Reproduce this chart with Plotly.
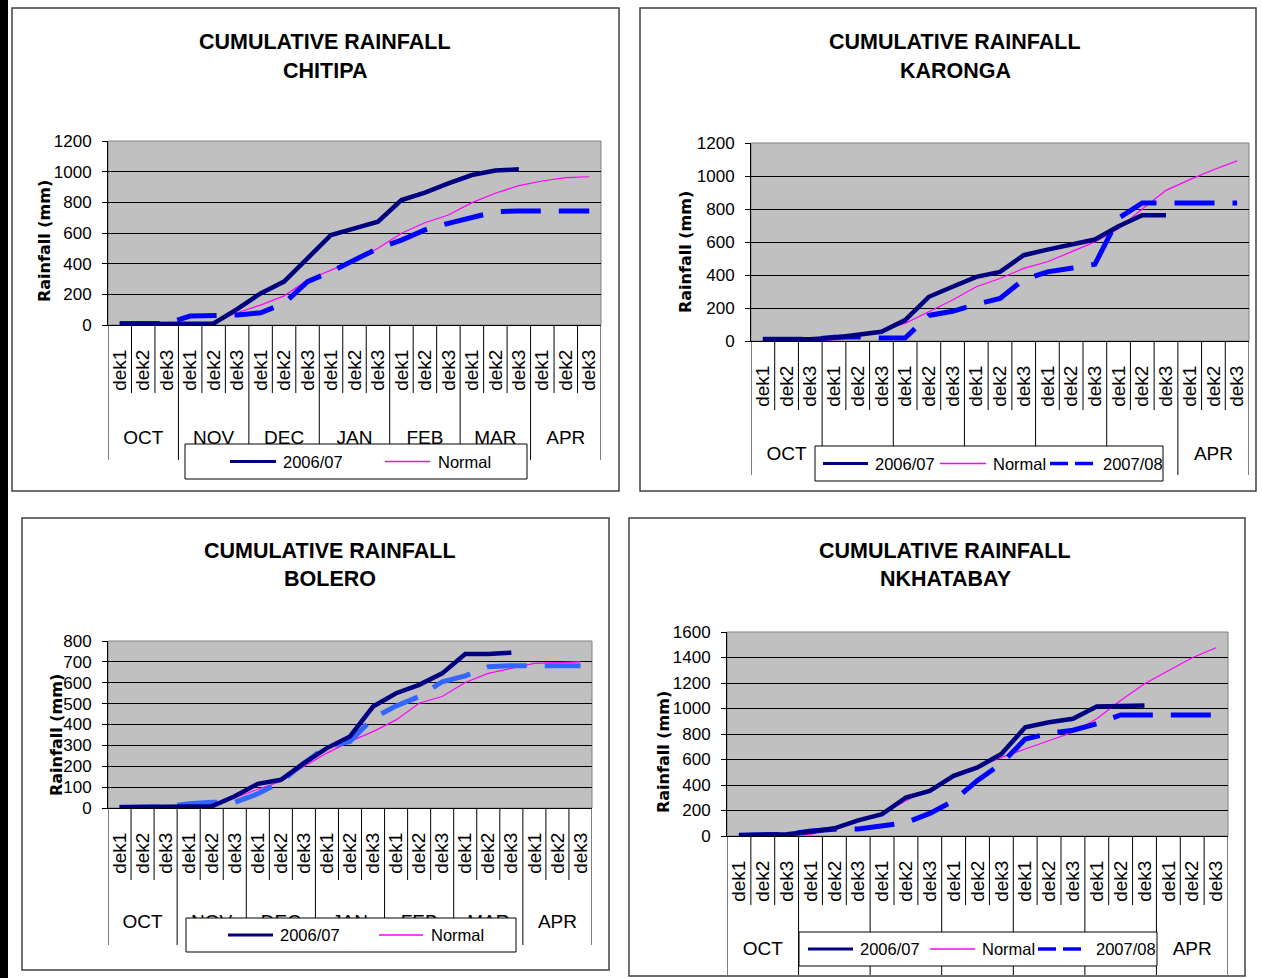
import plotly.graph_objects as go

W, H = 1262, 978

# ---- data -------------------------------------------------------------
months = ["OCT", "NOV", "DEC", "JAN", "FEB", "MAR", "APR"]
dek_labels = ["dek1", "dek2", "dek3"] * len(months)

chitipa_2006 = [5, 5, 5, 5, 10, 104, 206, 283, 435, 587, 630, 674, 815, 863, 924, 978, 1007, 1015]
chitipa_normal = [0, 0, 0, 0, 20, 80, 130, 190, 293, 358, 417, 500, 598, 667, 717, 798, 859, 909, 939, 961, 967]
chitipa_2007 = [10, 10, 10, 58, 58, 65, 80, 141, 283, 348, 424, 500, 554, 620, 663, 702, 739, 743, 743, 743, 743]

karonga_2006 = [10, 10, 10, 20, 36, 56, 127, 268, 329, 389, 419, 520, 554, 587, 615, 695, 762, 762]
karonga_normal = [5, 5, 5, 5, 26, 66, 107, 177, 248, 329, 379, 440, 480, 540, 601, 681, 800, 913, 978, 1038, 1092]
karonga_2007 = [10, 10, 10, 22, 26, 18, 18, 155, 180, 222, 258, 373, 419, 441, 465, 745, 837, 837, 837, 837, 837]

bolero_2006 = [3, 3, 3, 8, 8, 56, 116, 135, 215, 287, 343, 486, 550, 590, 645, 738, 738, 744]
bolero_normal = [0, 0, 3, 5, 16, 48, 90, 127, 199, 263, 319, 366, 422, 502, 534, 601, 645, 669, 693, 696, 700]
bolero_2007 = [3, 3, 6, 21, 27, 27, 68, 125, 215, 295, 319, 430, 489, 534, 605, 633, 677, 682, 682, 682, 682]

nkhata_2006 = [5, 13, 13, 34, 60, 123, 171, 302, 354, 472, 538, 643, 853, 892, 919, 1016, 1024, 1024]
nkhata_normal = [0, 0, 0, 13, 52, 118, 171, 276, 367, 459, 538, 617, 682, 748, 814, 919, 1063, 1194, 1299, 1398, 1477]
nkhata_2007 = [5, 13, 13, 39, 52, 55, 81, 105, 177, 276, 436, 568, 760, 805, 830, 880, 950, 950, 950, 950, 950]

# ---- styling ----------------------------------------------------------
SANS = "Liberation Sans, Arial, sans-serif"
NAVY = "#000080"
PINK = "#FF00FF"

panels = [
    dict(name="CHITIPA", s06=chitipa_2006, nor=chitipa_normal, s07=chitipa_2007,
         ymax=1200, dtick=200, plot=(108, 601, 141, 325), frame=(12, 619, 8, 491),
         tx=325, ty=(42, 71), ylab=(44, 241), dek_end=393, month_end=460, month_pos=424,
         dash="#0000FF", month_shown=range(7),
         box=(185, 527, 444, 479),
         items=[("s06", 230, 276, 281, "2006/07"), ("nor", 385, 430, 436, "Normal")]),
    dict(name="KARONGA", s06=karonga_2006, nor=karonga_normal, s07=karonga_2007,
         ymax=1200, dtick=200, plot=(751, 1249, 143, 341), frame=(640, 1256, 8, 491),
         tx=955, ty=(42, 71), ylab=(685, 252), dek_end=410, month_end=475, month_pos=440,
         dash="#0000FF", month_shown=range(7),
         box=(815, 1163, 446, 481),
         items=[("s06", 823, 868, 873, "2006/07"), ("nor", 940, 986, 991, "Normal"),
                ("s07", 1050, 1097, 1101, "2007/08")]),
    dict(name="BOLERO", s06=bolero_2006, nor=bolero_normal, s07=bolero_2007,
         ymax=800, dtick=100, plot=(108, 592, 641, 808), frame=(22, 609, 518, 970),
         tx=330, ty=(551, 579), ylab=(56, 735), dek_end=880, month_end=945, month_pos=908,
         dash="#3366FF", month_shown=range(7),
         box=(186, 516, 918, 952),
         items=[("s06", 228, 273, 278, "2006/07"), ("nor", 379, 423, 429, "Normal")]),
    dict(name="NKHATABAY", s06=nkhata_2006, nor=nkhata_normal, s07=nkhata_2007,
         ymax=1600, dtick=200, plot=(727, 1228, 632, 836), frame=(629, 1245, 518, 976),
         tx=945, ty=(551, 579), ylab=(663, 752), dek_end=905, month_end=975, month_pos=935,
         dash="#0000FF", month_shown=(0, 6),
         box=(799, 1157, 932, 966),
         items=[("s06", 808, 853, 858, "2006/07"), ("nor", 930, 975, 980, "Normal"),
                ("s07", 1038, 1088, 1094, "2007/08")]),
]


def fx(px):
    return px / W


def fy(py):
    return 1 - py / H


def ref(letter, n):
    return letter if n == 1 else f"{letter}{n}"


fig = go.Figure()
shapes = []
annotations = []
layout = {}

month_centers = [1 + 3 * i for i in range(len(months))]

for k, p in enumerate(panels, start=1):
    xa, ya, xm = ref("x", k), ref("y", k), ref("x", k + 4)
    x0, x1, yt, yb = p["plot"]

    fig.add_trace(go.Scatter(x=list(range(len(p["nor"]))), y=p["nor"], mode="lines",
                             line=dict(color=PINK, width=1.2), xaxis=xa, yaxis=ya,
                             name="Normal", showlegend=False))
    fig.add_trace(go.Scatter(x=list(range(len(p["s07"]))), y=p["s07"], mode="lines",
                             line=dict(color=p["dash"], width=5, dash="40px,18px"),
                             xaxis=xa, yaxis=ya, name="2007/08", showlegend=False))
    fig.add_trace(go.Scatter(x=list(range(len(p["s06"]))), y=p["s06"], mode="lines",
                             line=dict(color=NAVY, width=4.5), xaxis=xa, yaxis=ya,
                             name="2006/07", showlegend=False))
    # empty trace that carries the month axis
    fig.add_trace(go.Scatter(x=month_centers, y=[None] * len(months), mode="lines",
                             xaxis=xm, yaxis=ya, showlegend=False, hoverinfo="skip"))

    shown = [i for i in p["month_shown"]]
    layout[ref("xaxis", k)] = dict(
        domain=[fx(x0), fx(x1)], anchor=ya, range=[-0.5, 20.5],
        tickmode="array", tickvals=list(range(21)), ticktext=dek_labels,
        tickangle=-90, tickfont=dict(family=SANS, size=19, color="black"),
        showline=True, linecolor="black", linewidth=1, ticks="",
        ticklabelstandoff=16, showgrid=False, zeroline=False, fixedrange=True,
        automargin=False)
    layout[ref("xaxis", k + 4)] = dict(
        overlaying=xa, anchor="free", position=fy(p["month_pos"]), side="bottom",
        range=[-0.5, 20.5], tickmode="array",
        tickvals=[month_centers[i] for i in shown], ticktext=[months[i] for i in shown],
        tickfont=dict(family=SANS, size=19, color="black"),
        showline=False, ticks="", showgrid=False, zeroline=False, fixedrange=True,
        automargin=False)
    layout[ref("yaxis", k)] = dict(
        domain=[fy(yb), fy(yt)], anchor=xa, range=[0, p["ymax"]], dtick=p["dtick"],
        showgrid=True, gridcolor="black", gridwidth=1,
        showline=True, linecolor="black", linewidth=1,
        ticks="outside", ticklen=5, tickcolor="black", ticklabelstandoff=7,
        tickfont=dict(family=SANS, size=17, color="black"),
        zeroline=False, fixedrange=True, automargin=False)

    # grey border of the plotting area
    shapes.append(dict(type="rect", xref=f"{xa} domain", yref=f"{ya} domain",
                       x0=0, x1=1, y0=0, y1=1, line=dict(color="#808080", width=1),
                       layer="below"))
    # category separators under the axis
    for b in range(22):
        end = p["month_end"] if b % 3 == 0 else p["dek_end"]
        shapes.append(dict(type="line", xref=xa, yref="paper", x0=b - 0.5, x1=b - 0.5,
                           y0=fy(yb), y1=fy(end), line=dict(color="black", width=1)))
    # chart frame
    f0, f1, ft, fb = p["frame"]
    shapes.append(dict(type="rect", xref="paper", yref="paper", x0=fx(f0), x1=fx(f1),
                       y0=fy(fb), y1=fy(ft), line=dict(color="#404040", width=1.5)))
    # legend box
    b0, b1, bt, bb = p["box"]
    shapes.append(dict(type="rect", xref="paper", yref="paper", x0=fx(b0), x1=fx(b1),
                       y0=fy(bb), y1=fy(bt), line=dict(color="black", width=1),
                       fillcolor="white", layer="above"))
    ym = (bt + bb) / 2
    for kind, s0, s1, tx, label in p["items"]:
        if kind == "s06":
            ln = dict(color=NAVY, width=3)
        elif kind == "nor":
            ln = dict(color=PINK, width=1.5)
        else:
            ln = dict(color=p["dash"], width=3.5, dash="18px,7px")
        shapes.append(dict(type="line", xref="paper", yref="paper", x0=fx(s0), x1=fx(s1),
                           y0=fy(ym), y1=fy(ym), line=ln, layer="above"))
        annotations.append(dict(text=label, xref="paper", yref="paper", x=fx(tx), y=fy(ym),
                                xanchor="left", yanchor="middle", showarrow=False,
                                font=dict(family=SANS, size=16.5, color="black")))

    # titles
    for line_text, ty in zip(["CUMULATIVE RAINFALL", p["name"]], p["ty"]):
        annotations.append(dict(text=f"<b>{line_text}</b>", xref="paper", yref="paper",
                                x=fx(p["tx"]), y=fy(ty), xanchor="center", yanchor="middle",
                                showarrow=False,
                                font=dict(family=SANS, size=21.5, color="black")))
    # y-axis title
    lx, ly = p["ylab"]
    annotations.append(dict(text="<b>Rainfall (mm)</b>", xref="paper", yref="paper",
                            x=fx(lx), y=fy(ly), xanchor="center", yanchor="middle",
                            textangle=-90, showarrow=False,
                            font=dict(family="DejaVu Sans, sans-serif", size=16, color="black")))

# dark bar along the left edge
shapes.append(dict(type="rect", xref="paper", yref="paper", x0=0, x1=fx(8), y0=0, y1=1,
                   fillcolor="black", line=dict(width=0)))

fig.update_layout(
    width=W, height=H, margin=dict(l=0, r=0, t=0, b=0, pad=0, autoexpand=False),
    paper_bgcolor="white", plot_bgcolor="#C0C0C0",
    showlegend=False, shapes=shapes, annotations=annotations, **layout)

fig.write_html("out.html")
